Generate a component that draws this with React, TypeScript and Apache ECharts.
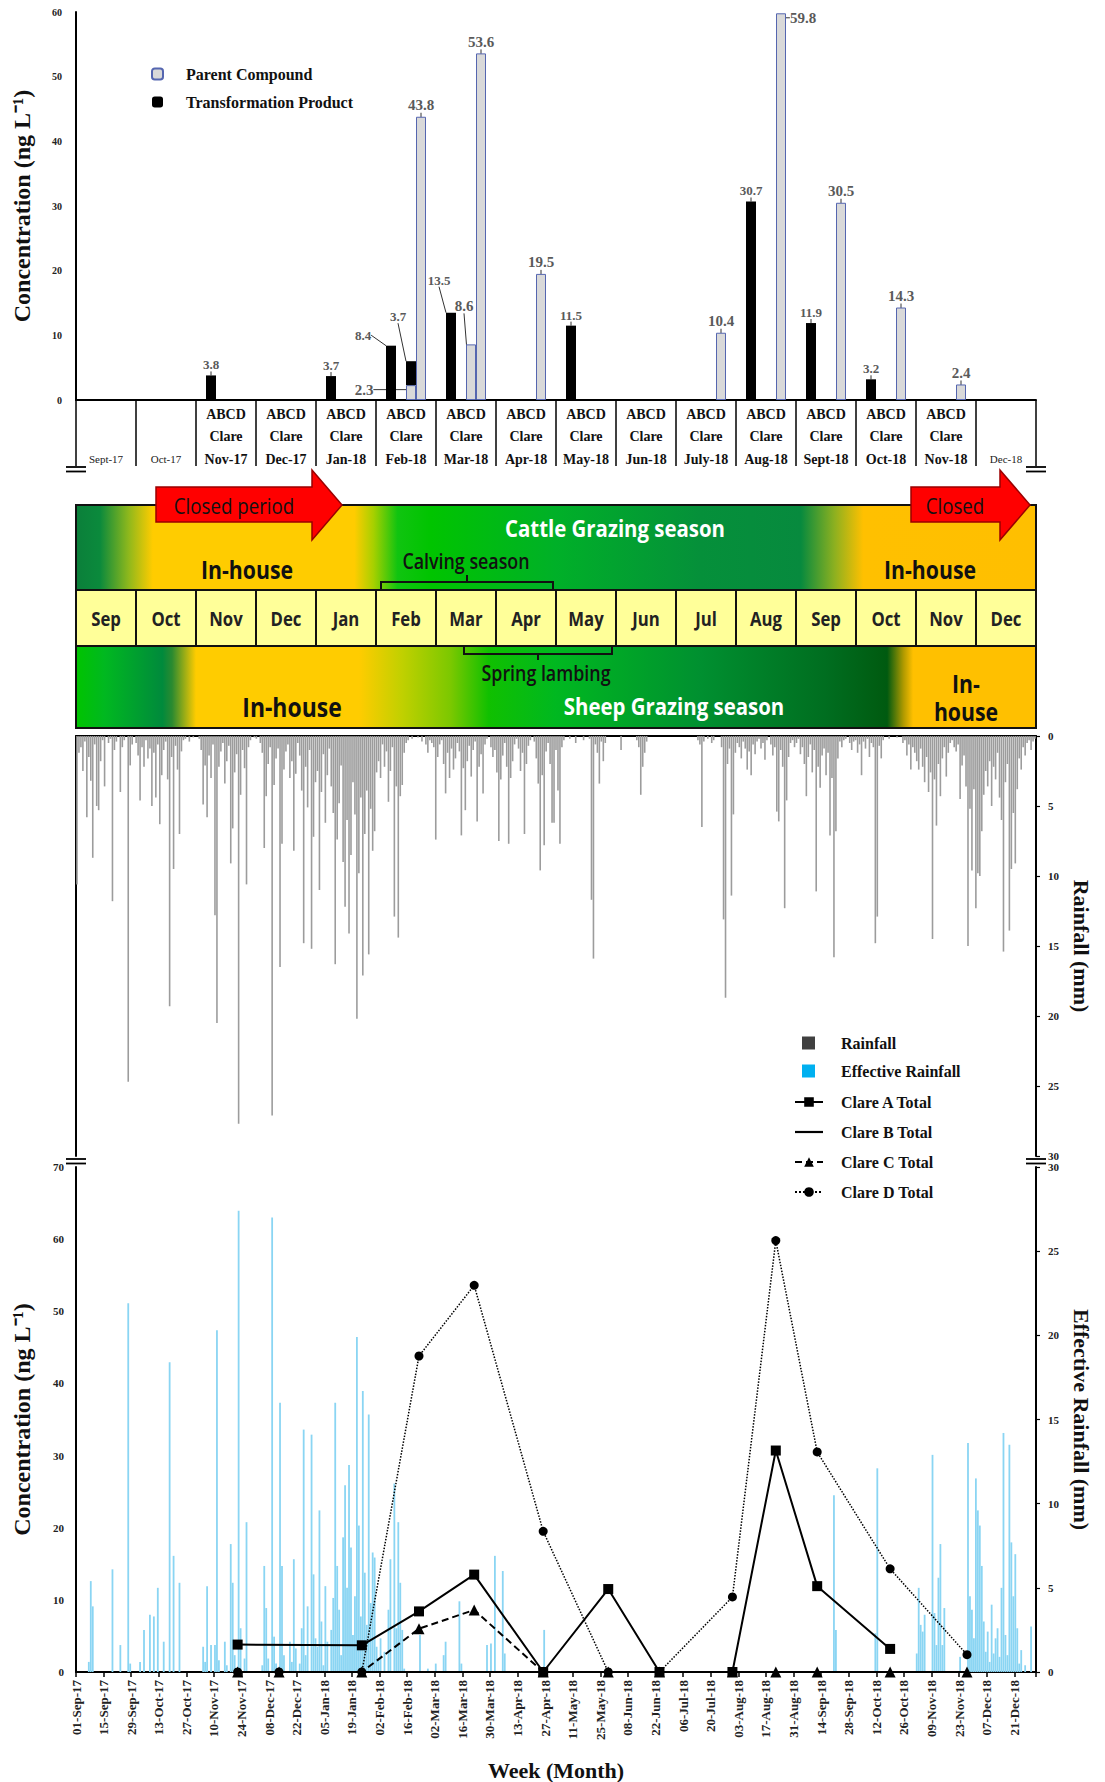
import React, { useEffect, useRef } from "react";
import * as echarts from "echarts";

const SERIF = "'Liberation Serif', 'Times New Roman', serif";
const SANS = "'Open Sans', 'Noto Sans', sans-serif";

// ---------------- Top chart (monthly concentrations, ng/L) ----------------
const monthCats = ["Sept-17", "Oct-17", "Nov-17", "Dec-17", "Jan-18", "Feb-18", "Mar-18", "Apr-18", "May-18", "Jun-18", "July-18", "Aug-18", "Sept-18", "Oct-18", "Nov-18", "Dec-18"];
const sampledMonths = ["Nov-17", "Dec-17", "Jan-18", "Feb-18", "Mar-18", "Apr-18", "May-18", "Jun-18", "July-18", "Aug-18", "Sept-18", "Oct-18", "Nov-18"];
const N = null;
const clareAParent = [N, N, N, N, N, N, N, N, N, N, N, N, N, N, N, N];
const clareATP = [N, N, 3.8, N, 3.7, 8.4, 13.5, N, 11.5, N, N, 30.7, 11.9, 3.2, N, N];
const clareBParent = [N, N, N, N, N, N, N, N, N, N, N, N, N, N, N, N];
const clareBTP = [N, N, N, N, N, N, N, N, N, N, N, N, N, N, N, N];
const clareCParent = [N, N, N, N, N, 2.3, 8.6, N, N, N, N, N, N, N, N, N];
const clareCTP = [N, N, N, N, N, 3.7, N, N, N, N, N, N, N, N, N, N];
const clareDParent = [N, N, N, N, N, 43.8, 53.6, 19.5, N, N, 10.4, 59.8, 30.5, 14.3, 2.4, N];
const clareDTP = [N, N, N, N, N, N, N, N, N, N, N, N, N, N, N, N];

// ---------------- Band (seasons) ----------------
const bandMonths = ["Sep", "Oct", "Nov", "Dec", "Jan", "Feb", "Mar", "Apr", "May", "Jun", "Jul", "Aug", "Sep", "Oct", "Nov", "Dec"];

// ---------------- Daily rainfall (mm), 01-Sep-17 .. 31-Dec-18 ----------------
const rainSep17 = [10.6, 1.2, 0.8, 2.5, 0.4, 5.8, 1.5, 3.2, 8.7, 0.6, 5.0, 5.3, 1.8, 0.3, 3.6, 0, 0.5, 0.2, 11.8, 1.0, 0.4, 0, 4.0, 0.8, 0.3, 0, 24.7, 2.1, 0.6, 0];
const rainOct17 = [0.5, 1.4, 4.6, 0.8, 2.2, 0.3, 1.6, 0.9, 5.0, 1.2, 4.4, 0.6, 6.3, 2.8, 1.0, 0.4, 3.1, 19.3, 1.5, 9.5, 0.7, 2.4, 7.0, 1.1, 0.3, 0.2, 0, 0.4, 0, 0.1, 0];
const rainNov17 = [0, 0.2, 1.0, 4.9, 2.1, 5.8, 1.4, 3.0, 0.6, 12.8, 20.5, 2.2, 1.1, 0.5, 3.4, 1.8, 0.7, 9.1, 6.6, 2.6, 1.3, 27.7, 4.2, 1.0, 2.3, 10.6, 0.8, 0.3, 0, 0.1];
const rainDec17 = [0.2, 0, 0.5, 1.2, 8.0, 4.3, 2.0, 0.8, 27.1, 3.5, 1.6, 0.9, 16.5, 7.7, 2.4, 1.1, 0.6, 3.0, 1.8, 8.2, 2.7, 0.5, 1.4, 3.9, 14.8, 2.2, 5.1, 1.0, 15.2, 7.2, 3.3];
const rainJan18 = [2.5, 11.0, 4.0, 1.3, 6.2, 2.8, 0.9, 3.6, 5.5, 16.3, 7.4, 4.8, 2.1, 9.0, 12.2, 6.0, 14.1, 8.5, 3.3, 5.6, 20.2, 9.8, 4.4, 17.1, 7.0, 3.9, 15.6, 5.2, 8.2, 6.8, 2.6];
const rainFeb18 = [1.8, 3.0, 0.6, 2.2, 1.1, 4.7, 2.5, 0.8, 12.9, 3.6, 14.4, 4.3, 3.5, 1.2, 0.5, 0.3, 0, 0.2, 0, 0, 0.1, 0, 0.4, 0, 0.6, 1.2, 0.3, 0.5];
const rainMar18 = [0.8, 7.4, 1.5, 0.6, 0.3, 2.0, 4.1, 1.2, 3.0, 0.9, 2.4, 1.6, 0.5, 1.1, 7.1, 2.3, 5.3, 1.8, 0.7, 2.9, 1.0, 0.4, 6.1, 2.2, 1.3, 4.1, 0.6, 0.2, 0, 0.8, 1.5];
const rainApr18 = [1.0, 2.6, 7.5, 3.1, 1.4, 0.5, 2.2, 7.7, 3.0, 1.8, 0.6, 0.2, 0.9, 2.5, 1.2, 7.0, 2.0, 0.7, 0.3, 0, 0.4, 1.6, 3.4, 9.6, 2.8, 7.8, 1.1, 0.5, 2.0, 6.2];
const rainMay18 = [6.2, 1.0, 3.9, 7.7, 0.8, 0.3, 0, 0, 0.2, 0, 0, 0.5, 0, 0, 0, 0.3, 0, 0, 0.2, 11.7, 15.9, 0.6, 1.2, 3.4, 0.4, 1.8, 0.5, 0, 0, 0, 0];
const rainJun18 = [0, 0, 0, 1.0, 0, 0, 0, 0, 0, 0, 0, 0.3, 0.8, 4.2, 2.2, 1.2, 0.4, 0, 0, 0, 0, 0, 0, 0, 0, 0, 0, 0, 0, 0];
const rainJul18 = [0, 0, 0, 0, 0, 0, 0, 0, 0, 0, 0, 0, 0.3, 0.6, 6.5, 0.4, 0, 0.2, 0, 0.5, 0.3, 0, 0, 0, 0.8, 13.1, 18.7, 2.0, 0.9, 11.4, 5.6];
const rainAug18 = [1.2, 0.5, 0.8, 1.6, 0.4, 0.9, 2.4, 1.1, 2.8, 0.6, 1.3, 0.4, 0.2, 0.9, 0.5, 1.7, 0.3, 0, 0.6, 1.4, 0.8, 5.4, 6.1, 1.0, 2.2, 12.3, 4.6, 1.5, 0.5, 0.3, 0.8];
const rainSep18 = [0.5, 0.2, 1.3, 0.8, 2.0, 4.3, 1.5, 0.6, 2.6, 1.0, 11.1, 2.2, 3.7, 1.4, 0.9, 2.8, 1.2, 7.1, 3.0, 15.8, 6.8, 1.6, 0.4, 0.8, 0.3, 0.2, 0, 0.5, 1.0, 0.4];
const rainOct18 = [0.3, 1.2, 0.6, 2.8, 0.4, 0.9, 0.2, 1.5, 0.5, 0.8, 14.8, 12.9, 0.7, 1.6, 0.3, 0, 0, 0.2, 0, 0, 0, 0.1, 0, 0, 0.5, 0.3, 1.4, 0.6, 2.4, 0.8, 1.2];
const rainNov18 = [1.8, 2.4, 0.9, 2.2, 3.3, 1.5, 4.0, 2.6, 14.5, 3.1, 6.4, 2.0, 4.3, 1.6, 0.8, 2.9, 1.2, 0.5, 0.3, 0.8, 1.1, 0.6, 4.5, 2.1, 1.4, 3.6, 15.0, 5.2, 9.6, 3.8];
const rainDec18 = [12.3, 9.8, 10.0, 6.8, 4.2, 2.5, 3.6, 1.8, 5.0, 2.2, 3.1, 1.2, 4.4, 6.0, 15.4, 3.3, 2.0, 13.9, 9.5, 5.5, 9.1, 3.8, 1.6, 2.4, 0.8, 1.4, 0.5, 0.3, 1.0, 0.4, 0.2];

// ---------------- Daily effective rainfall (mm) ----------------
const effSep17 = [0, 0, 0, 0, 0, 0, 0.6, 5.4, 3.9, 0, 0, 0, 0, 0, 0, 0, 0, 0, 6.1, 0, 0, 0, 1.6, 0, 0, 0, 21.9, 0.5, 0, 0];
const effOct17 = [0, 0, 0.6, 0, 2.5, 0, 0, 3.4, 0, 3.3, 0, 5.0, 0, 0, 1.8, 0, 0, 18.4, 0, 6.9, 0, 0, 5.3, 0, 0, 0, 0, 0, 0, 0, 0];
const effNov17 = [0, 0, 0, 1.5, 0.6, 5.1, 0, 1.6, 0, 1.6, 20.3, 0.7, 0, 0, 1.8, 0.4, 0, 7.6, 5.3, 1.0, 0, 27.4, 2.6, 0, 0.8, 8.9, 0, 0, 0, 0];
const effDec17 = [0, 0, 0, 0.4, 6.3, 3.8, 0.8, 0, 27.0, 2.1, 0.5, 0, 16.0, 6.3, 1.0, 0, 0, 1.8, 0.6, 6.7, 1.4, 0, 0.5, 2.6, 14.4, 1.0, 3.9, 0, 14.1, 5.8, 2.0];
const effJan18 = [1.5, 9.6, 3.0, 0.4, 5.1, 1.8, 0, 2.5, 4.4, 16.0, 6.3, 3.7, 1.0, 8.0, 11.1, 5.0, 12.3, 7.4, 2.2, 4.5, 19.9, 8.7, 3.3, 16.7, 5.9, 2.8, 15.3, 4.1, 7.1, 6.8, 1.5];
const effFeb18 = [0.8, 2.0, 0, 1.2, 0, 3.7, 6.7, 0, 11.2, 2.6, 8.9, 5.3, 2.5, 0.2, 0, 0, 0, 0, 0, 0, 0, 2.2, 0, 0, 0, 0.2, 0, 0];
const effMar18 = [0, 0.5, 0, 0, 0, 1.0, 1.8, 0, 0, 0, 0, 0, 0, 4.2, 0.5, 0, 0, 0, 0, 0, 0, 0, 0, 0, 0, 0, 0, 1.6, 0, 1.7, 0];
const effApr18 = [6.9, 0, 0, 0, 6.0, 1.1, 0, 0, 0, 0, 0, 0, 0, 0, 0, 0, 0, 0, 0, 0, 0, 0, 0, 0, 0, 2.5, 0, 0, 0, 0];
const effMay18 = [0, 0, 0, 0, 0, 0, 0, 0, 0, 0, 0, 0, 0, 0, 0, 0, 0, 0, 0, 0, 0, 0, 0, 0, 0, 0, 0, 0, 0, 0, 0];
const effJun18 = [0, 0, 0, 0, 0, 0, 0, 0, 0, 0, 0, 0, 0, 0, 0, 0, 0, 0, 0, 0, 0, 0, 0, 0, 0, 0, 0, 0, 0, 0];
const effJul18 = [0, 0, 0, 0, 0, 0, 0, 0, 0, 0, 0, 0, 0, 0, 0, 0, 0, 0, 0, 0, 0, 0, 0, 0, 0, 0, 0, 0, 0, 0, 0];
const effAug18 = [0, 0, 0, 0, 0, 0, 0, 0, 0, 0, 0, 0, 0, 0, 0, 0, 0, 0, 0, 0, 0, 0, 0, 0, 0, 0, 0, 0, 0, 0, 0];
const effSep18 = [0, 0, 0, 0, 0, 0, 0, 0, 0, 0, 0, 0, 0, 0, 0, 0, 0, 0, 0, 10.5, 2.5, 0, 0, 0, 0, 0, 0, 0, 0, 0];
const effOct18 = [0, 0, 0, 0, 0, 0, 0, 0, 0, 0, 2.3, 12.1, 0, 0, 0, 0, 0, 0, 0, 0, 0, 0, 0, 0, 0, 0, 0, 0, 0, 0, 0];
const effNov18 = [1.1, 5.0, 2.8, 2.4, 3.4, 0, 0, 0, 12.9, 3.5, 1.6, 5.6, 7.6, 1.6, 3.8, 0, 0, 0, 0, 0, 0, 0, 0.9, 0, 0, 0, 13.6, 4.5, 3.7, 2.0];
const effDec18 = [11.5, 9.6, 8.7, 6.3, 3.0, 1.2, 2.4, 0.6, 4.0, 1.1, 2.0, 2.6, 0.9, 5.0, 14.2, 2.2, 1.0, 13.5, 7.7, 4.5, 7.0, 2.6, 0.5, 1.3, 0, 0.4, 0, 0, 2.7, 0, 0];

// ---------------- Sampling totals (ng/L) ----------------
const sampleDates = ["2017-11-22", "2017-12-13", "2018-01-24", "2018-02-22", "2018-03-22", "2018-04-26", "2018-05-29", "2018-06-24", "2018-07-31", "2018-08-22", "2018-09-12", "2018-10-19", "2018-11-27"];
const clareATotal = [3.8, N, 3.7, 8.4, 13.5, 0, 11.5, 0, 0, 30.7, 11.9, 3.2, N];
const clareBTotal = [0, 0, 0, 0, 0, 0, 0, 0, 0, 0, 0, 0, 0];
const clareCTotal = [0, 0, 0, 6.0, 8.6, 0, 0, 0, 0, 0, 0, 0, 0];
const clareDTotal = [0, 0, 0, 43.8, 53.6, 19.5, 0, 0, 10.4, 59.8, 30.5, 14.3, 2.4];

// ---------------- helpers ----------------
const MONTHS = ["Jan", "Feb", "Mar", "Apr", "May", "Jun", "Jul", "Aug", "Sep", "Oct", "Nov", "Dec"];
const START = Date.UTC(2017, 8, 1);
const DAY = 86400000;
const TOTAL_DAYS = 487;
const dateToDay = (s: string) => {
  const [y, m, d] = s.split("-").map(Number);
  return Math.round((Date.UTC(y, m - 1, d) - START) / DAY);
};
const fmtDay = (v: number) => {
  if (v % 14 !== 0 || v > 480) return "";
  const t = new Date(START + v * DAY);
  return String(t.getUTCDate()).padStart(2, "0") + "-" + MONTHS[t.getUTCMonth()] + "-" + String(t.getUTCFullYear() % 100);
};

const rainDaily = [
  ...rainSep17, ...rainOct17, ...rainNov17, ...rainDec17, ...rainJan18, ...rainFeb18, ...rainMar18, ...rainApr18,
  ...rainMay18, ...rainJun18, ...rainJul18, ...rainAug18, ...rainSep18, ...rainOct18, ...rainNov18, ...rainDec18,
];
const effDaily = [
  ...effSep17, ...effOct17, ...effNov17, ...effDec17, ...effJan18, ...effFeb18, ...effMar18, ...effApr18,
  ...effMay18, ...effJun18, ...effJul18, ...effAug18, ...effSep18, ...effOct18, ...effNov18, ...effDec18,
];

const labelMoves: Record<string, Record<number, [number, number]>> = {
  aTP: { 5: [-28, 0], 6: [-12, -22] },
  cP: { 5: [-47, 16], 6: [-7, -27] },
  cTP: { 5: [-13, -34] },
  dP: { 11: [22, 16] },
};

function barSeries(id: string, name: string, data: any[], stack: string, parent: boolean) {
  return {
    id,
    name,
    type: "bar",
    xAxisIndex: 0,
    yAxisIndex: 0,
    stack,
    data,
    barWidth: 10,
    barGap: "0%",
    itemStyle: parent ? { color: "#d9d9d9", borderColor: "#5566b0", borderWidth: 1 } : { color: "#000" },
    label: {
      show: true,
      position: "top",
      distance: 4,
      fontFamily: SERIF,
      fontWeight: "bold",
      fontSize: parent ? 15 : 13,
      color: "#5a5a5a",
    },
    labelLine: { show: true, lineStyle: { color: "#333", width: 1 } },
    labelLayout: (p: any) => {
      const m = labelMoves[id] && labelMoves[id][p.dataIndex];
      return m ? { dx: m[0], dy: m[1] } : {};
    },
  };
}

const lin = (stops: [number, string][]) =>
  new echarts.graphic.LinearGradient(0, 0, 1, 0, stops.map(([offset, color]) => ({ offset, color })));

const txt = (text: string, x: number, y: number, size: number, weight: any, fill: string, sx = 1, family = SANS) => ({
  type: "text",
  x,
  y,
  scaleX: sx,
  z: 10,
  style: { text, fontSize: size, fontWeight: weight, fontFamily: family, fill, align: "center", verticalAlign: "middle" },
});

const cattleStops: [number, string][] = [
  [0, "#0b7f3a"], [0.025, "#0b8a3c"], [0.055, "#8fb81c"], [0.08, "#ffcc00"], [0.29, "#ffcc00"],
  [0.31, "#a6d000"], [0.335, "#10c410"], [0.37, "#00c400"], [0.5, "#00b028"], [0.65, "#05903a"],
  [0.755, "#078a3e"], [0.79, "#8cb020"], [0.82, "#ffc000"], [1, "#ffbf00"],
];
const sheepStops: [number, string][] = [
  [0, "#00c400"], [0.03, "#00b820"], [0.09, "#008a3c"], [0.1, "#2a8a30"], [0.125, "#ffcc00"],
  [0.295, "#ffcc00"], [0.34, "#c0d000"], [0.39, "#7cc800"], [0.43, "#10c000"], [0.5, "#00b820"],
  [0.65, "#009030"], [0.78, "#006e20"], [0.845, "#005a10"], [0.862, "#b09a00"], [0.872, "#ffc000"], [1, "#ffc000"],
];

function buildGraphic() {
  const g: any[] = [];
  const X0 = 76;
  const CW = 60;
  g.push({ type: "rect", shape: { x: X0, y: 505, width: 960, height: 85 }, style: { fill: lin(cattleStops), stroke: "#111", lineWidth: 2 } });
  g.push({ type: "rect", shape: { x: X0, y: 646, width: 960, height: 82 }, style: { fill: lin(sheepStops), stroke: "#111", lineWidth: 2 } });
  bandMonths.forEach((m, i) => {
    g.push({ type: "rect", shape: { x: X0 + i * CW, y: 590, width: CW, height: 56 }, style: { fill: "#ffff99", stroke: "#111", lineWidth: 2 } });
    g.push(txt(m, X0 + i * CW + CW / 2, 619, 19, "bold", "#222", 0.88));
  });
  g.push({
    type: "polygon",
    z: 5,
    shape: { points: [[156, 487], [312, 487], [312, 470], [342, 505], [312, 540], [312, 522], [156, 522]] },
    style: { fill: "#ff0000", stroke: "#9a0000", lineWidth: 1.5 },
  });
  g.push(txt("Closed period", 234, 505, 22, "normal", "#111", 0.85));
  g.push({
    type: "polygon",
    z: 5,
    shape: { points: [[911, 487], [1000, 487], [1000, 470], [1030, 505], [1000, 540], [1000, 522], [911, 522]] },
    style: { fill: "#ff0000", stroke: "#9a0000", lineWidth: 1.5 },
  });
  g.push(txt("Closed", 955, 505, 22, "normal", "#111", 0.85));
  g.push(txt("Cattle Grazing season", 615, 528, 24, "bold", "#ffffff", 0.85));
  g.push(txt("In-house", 247, 569, 25, "bold", "#111", 0.85));
  g.push(txt("In-house", 930, 569, 25, "bold", "#111", 0.85));
  g.push(txt("Calving season", 466, 561, 21, "600", "#111", 0.85));
  g.push({ type: "polyline", z: 6, shape: { points: [[381, 589], [381, 582], [553, 582], [553, 589]] }, style: { stroke: "#111", lineWidth: 2, fill: null } });
  g.push({ type: "line", z: 6, shape: { x1: 467, y1: 582, x2: 467, y2: 575 }, style: { stroke: "#111", lineWidth: 2 } });
  g.push({ type: "polyline", z: 6, shape: { points: [[464, 647], [464, 654], [612, 654], [612, 647]] }, style: { stroke: "#111", lineWidth: 2, fill: null } });
  g.push({ type: "line", z: 6, shape: { x1: 538, y1: 654, x2: 538, y2: 660 }, style: { stroke: "#111", lineWidth: 2 } });
  g.push(txt("Spring lambing", 546, 673, 21, "600", "#111", 0.85));
  g.push(txt("In-house", 292, 706, 27, "bold", "#111", 0.85));
  g.push(txt("Sheep Grazing season", 674, 706, 24, "bold", "#ffffff", 0.85));
  g.push(txt("In-", 966, 683, 25, "bold", "#111", 0.85));
  g.push(txt("house", 966, 711, 25, "bold", "#111", 0.85));
  const brk = (x: number, y: number) => {
    g.push({ type: "line", z: 10, shape: { x1: x - 10, y1: y, x2: x + 10, y2: y }, style: { stroke: "#000", lineWidth: 1.8 } });
    g.push({ type: "line", z: 10, shape: { x1: x - 10, y1: y + 4.5, x2: x + 10, y2: y + 4.5 }, style: { stroke: "#000", lineWidth: 1.8 } });
  };
  brk(76, 467);
  brk(1036, 467);
  brk(76, 1159);
  brk(1036, 1159);
  return g;
}

const axisLbl = { fontFamily: SERIF, fontWeight: "bold", fontSize: 11, color: "#222" };
const axisNameStyle = { fontFamily: SERIF, fontWeight: "bold", fontSize: 24, color: "#111" };
const blackLine = { show: true, onZero: false, lineStyle: { color: "#000", width: 2 } };

function buildOption() {
  const toDays = (vals: any[]) =>
    sampleDates.map((d, i) => [dateToDay(d), vals[i]]).filter((p) => p[1] !== null);

  return {
    animation: false,
    backgroundColor: "#ffffff",
    grid: [
      { left: 76, top: 12, width: 960, height: 388 },
      { left: 76, top: 736, width: 960, height: 420 },
      { left: 76, top: 1167, width: 960, height: 505 },
    ],
    legend: [
      {
        data: ["Parent Compound", "Transformation Product"],
        orient: "vertical",
        left: 146,
        top: 61,
        itemWidth: 11,
        itemHeight: 11,
        itemGap: 12,
        textStyle: { fontFamily: SERIF, fontWeight: "bold", fontSize: 16, color: "#111", padding: [0, 0, 0, 18] },
        selectedMode: false,
      },
      {
        data: [
          { name: "Rainfall", icon: "rect", itemStyle: { color: "#404040" } },
          { name: "Effective Rainfall", icon: "rect", itemStyle: { color: "#00b0f0" } },
        ],
        orient: "vertical",
        left: 797,
        top: 1030,
        itemWidth: 13,
        itemHeight: 13,
        itemGap: 12,
        textStyle: { fontFamily: SERIF, fontWeight: "bold", fontSize: 16, color: "#111", padding: [0, 0, 0, 21] },
        selectedMode: false,
      },
      {
        data: [
          "Clare A Total",
          { name: "Clare B Total", icon: "path://M0,0 L28,0 L28,2.2 L0,2.2 Z" },
          "Clare C Total",
          "Clare D Total",
        ],
        orient: "vertical",
        left: 789,
        top: 1089,
        itemWidth: 28,
        itemHeight: 12,
        itemGap: 14,
        textStyle: { fontFamily: SERIF, fontWeight: "bold", fontSize: 16, color: "#111", padding: [0, 0, 0, 13] },
        selectedMode: false,
      },
    ],
    xAxis: [
      {
        gridIndex: 0,
        type: "category",
        data: monthCats,
        axisLine: { show: true, lineStyle: { color: "#000", width: 2 } },
        axisTick: { show: true, length: 66, interval: 0, alignWithLabel: false, lineStyle: { color: "#000", width: 1.5 } },
        axisLabel: {
          interval: 0,
          margin: 3,
          formatter: (v: string) =>
            sampledMonths.includes(v) ? `{b|ABCD}\n{b|Clare}\n{b|${v}}` : `{e| }\n{e| }\n{s|${v}}`,
          rich: {
            b: { fontFamily: SERIF, fontWeight: "bold", fontSize: 14, lineHeight: 22.5, color: "#111" },
            s: { fontFamily: SERIF, fontSize: 11, lineHeight: 22.5, color: "#222" },
            e: { fontSize: 11, lineHeight: 22.5 },
          },
        },
        splitLine: { show: false },
      },
      {
        gridIndex: 1,
        type: "value",
        min: 0,
        max: TOTAL_DAYS,
        position: "top",
        axisLine: blackLine,
        axisTick: { show: false },
        axisLabel: { show: false },
        splitLine: { show: false },
      },
      {
        gridIndex: 2,
        type: "value",
        min: 0,
        max: TOTAL_DAYS,
        interval: 14,
        axisLine: blackLine,
        axisTick: { show: true, length: 5, lineStyle: { color: "#000", width: 1.5 } },
        axisLabel: { ...axisLbl, fontSize: 13, rotate: 90, margin: 8, formatter: fmtDay },
        splitLine: { show: false },
        name: "Week (Month)",
        nameLocation: "middle",
        nameGap: 87,
        nameTextStyle: { ...axisNameStyle, fontSize: 22 },
      },
    ],
    yAxis: [
      {
        gridIndex: 0,
        type: "value",
        min: 0,
        max: 60,
        interval: 10,
        axisLine: blackLine,
        axisTick: { show: false },
        axisLabel: { ...axisLbl, fontSize: 10, margin: 14 },
        splitLine: { show: false },
        name: "Concentration (ng L\u207B\u00B9)",
        nameLocation: "middle",
        nameGap: 42,
        nameTextStyle: axisNameStyle,
      },
      {
        gridIndex: 1,
        type: "value",
        min: 0,
        max: 30,
        interval: 5,
        inverse: true,
        position: "right",
        axisLine: blackLine,
        axisTick: { show: true, length: 4, lineStyle: { color: "#000", width: 1.2 } },
        axisLabel: { ...axisLbl, margin: 12 },
        splitLine: { show: false },
        name: "Rainfall (mm)",
        nameLocation: "middle",
        nameRotate: -90,
        nameGap: 34,
        nameTextStyle: { ...axisNameStyle, fontSize: 22 },
      },
      {
        gridIndex: 1,
        type: "value",
        min: 0,
        max: 30,
        interval: 5,
        inverse: true,
        position: "left",
        axisLine: blackLine,
        axisTick: { show: false },
        axisLabel: { show: false },
        splitLine: { show: false },
      },
      {
        gridIndex: 2,
        type: "value",
        min: 0,
        max: 70,
        interval: 10,
        position: "left",
        axisLine: blackLine,
        axisTick: { show: false },
        axisLabel: { ...axisLbl, margin: 12 },
        splitLine: { show: false },
        name: "Concentration (ng L\u207B\u00B9)",
        nameLocation: "middle",
        nameGap: 42,
        nameTextStyle: axisNameStyle,
      },
      {
        gridIndex: 2,
        type: "value",
        min: 0,
        max: 30,
        interval: 5,
        position: "right",
        axisLine: blackLine,
        axisTick: { show: true, length: 4, lineStyle: { color: "#000", width: 1.2 } },
        axisLabel: { ...axisLbl, margin: 12 },
        splitLine: { show: false },
        name: "Effective Rainfall (mm)",
        nameLocation: "middle",
        nameRotate: -90,
        nameGap: 34,
        nameTextStyle: { ...axisNameStyle, fontSize: 22 },
      },
    ],
    series: [
      barSeries("aP", "Parent Compound", clareAParent, "A", true),
      barSeries("aTP", "Transformation Product", clareATP, "A", false),
      barSeries("bP", "Parent Compound", clareBParent, "B", true),
      barSeries("bTP", "Transformation Product", clareBTP, "B", false),
      barSeries("cP", "Parent Compound", clareCParent, "C", true),
      barSeries("cTP", "Transformation Product", clareCTP, "C", false),
      barSeries("dP", "Parent Compound", clareDParent, "D", true),
      barSeries("dTP", "Transformation Product", clareDTP, "D", false),
      {
        name: "Rainfall",
        type: "bar",
        xAxisIndex: 1,
        yAxisIndex: 1,
        barWidth: 1.6,
        itemStyle: { color: "#9c9c9c" },
        data: rainDaily.map((v, i) => [i + 0.5, v]),
      },
      {
        name: "Effective Rainfall",
        type: "bar",
        xAxisIndex: 2,
        yAxisIndex: 4,
        barWidth: 1.8,
        itemStyle: { color: "#8ad5f3" },
        data: effDaily.map((v, i) => [i + 0.5, v]),
      },
      {
        name: "Clare B Total",
        type: "line",
        xAxisIndex: 2,
        yAxisIndex: 3,
        z: 3,
        symbol: "none",
        lineStyle: { color: "#000", width: 2 },
        itemStyle: { color: "#000" },
        data: toDays(clareBTotal),
      },
      {
        name: "Clare D Total",
        type: "line",
        xAxisIndex: 2,
        yAxisIndex: 3,
        z: 4,
        symbol: "circle",
        symbolSize: 9,
        lineStyle: { color: "#000", width: 1.5, type: "dotted" },
        itemStyle: { color: "#000" },
        data: toDays(clareDTotal),
      },
      {
        name: "Clare C Total",
        type: "line",
        xAxisIndex: 2,
        yAxisIndex: 3,
        z: 5,
        symbol: "triangle",
        symbolSize: 11,
        lineStyle: { color: "#000", width: 2, type: [7, 4] },
        itemStyle: { color: "#000" },
        data: toDays(clareCTotal),
      },
      {
        name: "Clare A Total",
        type: "line",
        xAxisIndex: 2,
        yAxisIndex: 3,
        z: 6,
        symbol: "rect",
        symbolSize: 10,
        lineStyle: { color: "#000", width: 2 },
        itemStyle: { color: "#000" },
        data: toDays(clareATotal),
      },
    ],
    graphic: buildGraphic(),
  };
}

export default function App() {
  const ref = useRef<HTMLDivElement>(null);
  useEffect(() => {
    if (!ref.current) return;
    const chart = echarts.init(ref.current, undefined, { renderer: "svg" });
    chart.setOption(buildOption() as any);
    return () => chart.dispose();
  }, []);
  return (
    <div
      ref={ref}
      style={{ position: "absolute", left: 0, top: 0, width: 1105, height: 1782, background: "#fff" }}
    />
  );
}
